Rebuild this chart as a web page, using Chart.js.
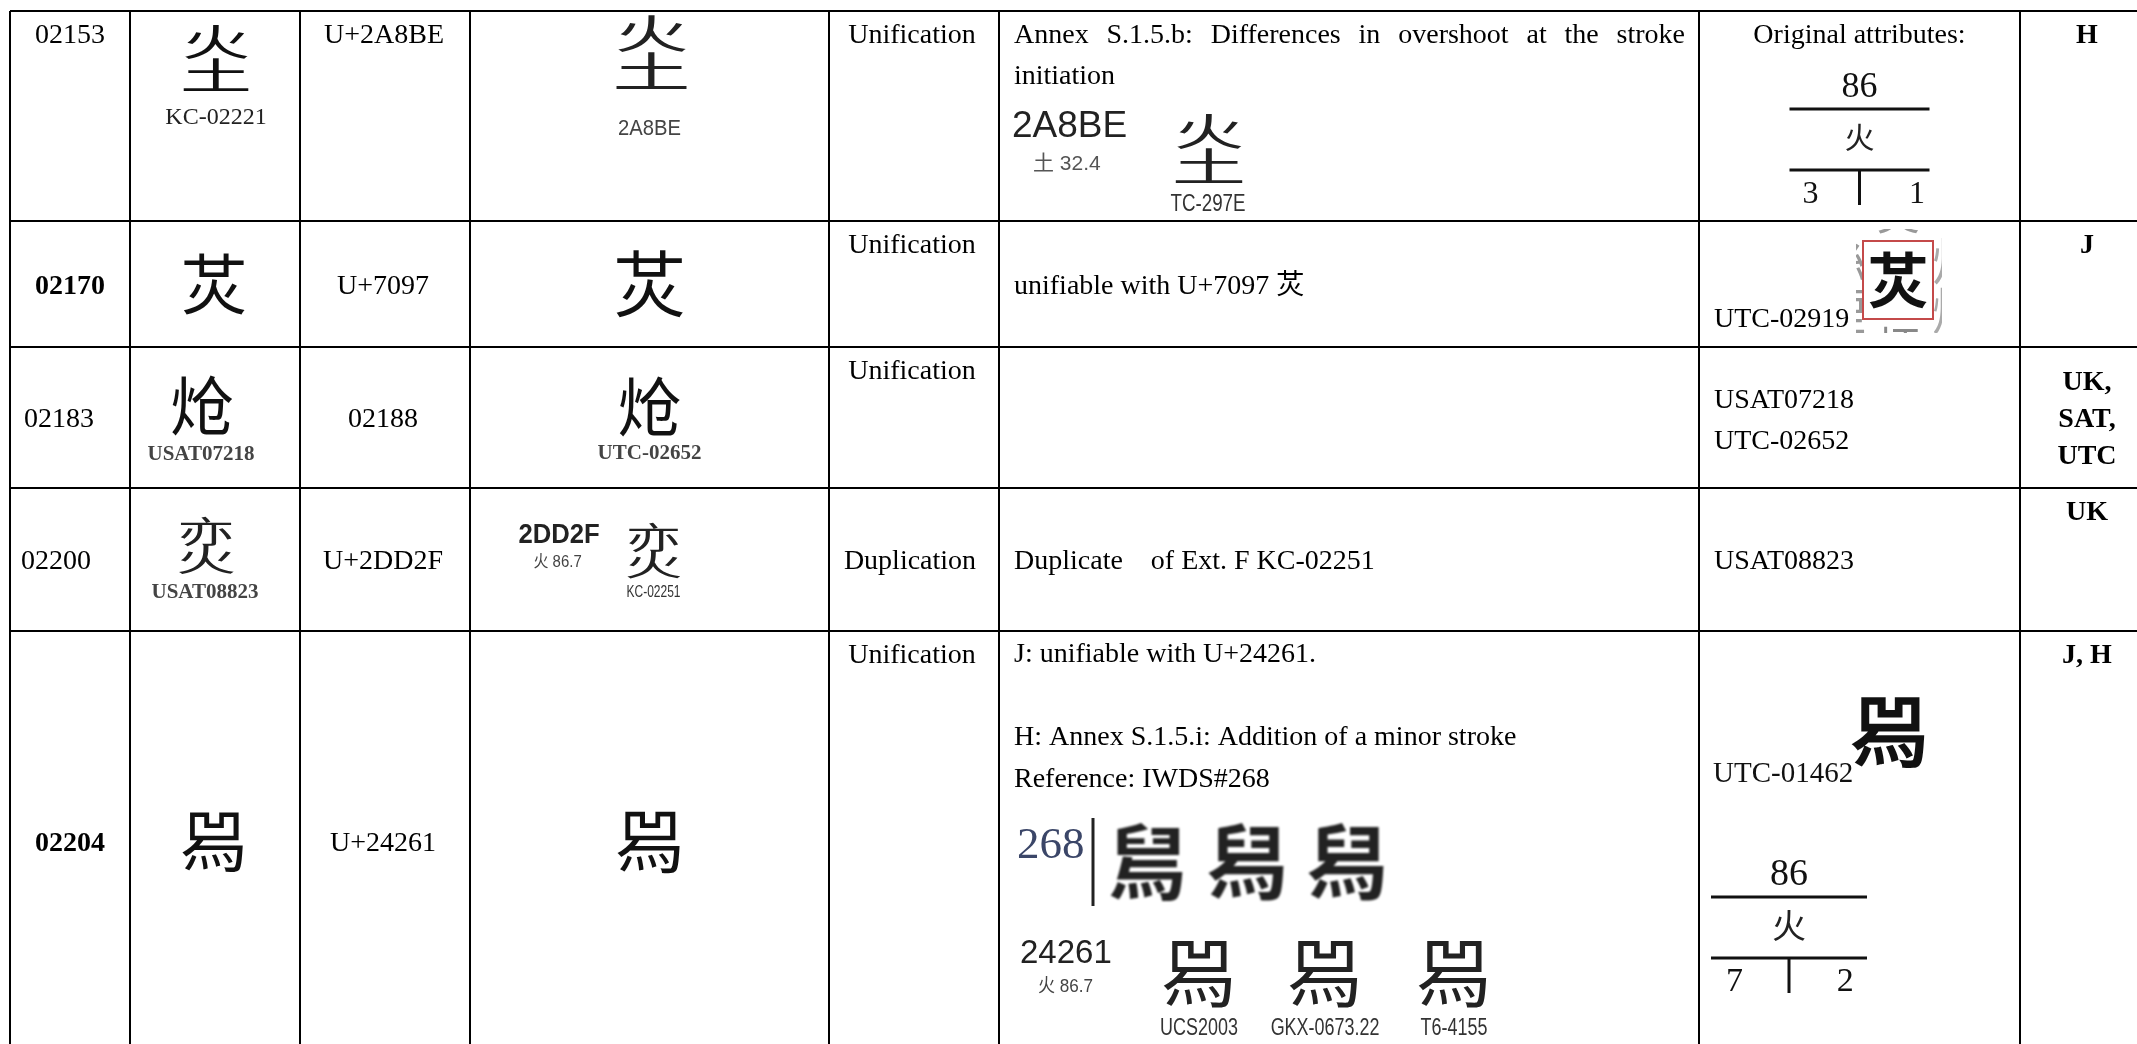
<!DOCTYPE html>
<html>
<head>
<meta charset="utf-8">
<script src="https://cdn.jsdelivr.net/npm/chart.js@4.4.1/dist/chart.umd.min.js"></script>
<style>
  html, body { margin: 0; padding: 0; background: #fff; overflow: hidden; }
  #wrap { width: 2137px; height: 1044px; }
</style>
</head>
<body>
<div id="wrap"><canvas id="table_chart"></canvas></div>
<script>
// ---- table content -------------------------------------------------------
const rowIds = ["02153", "02170", "02183", "02200", "02204"];
const rowIdBold = [false, true, false, false, true];
const sourceGlyphs = ["\u{2A8BE}", "\u7097", "\u709D", "\u{2DD2F}", "\u{24261}"];
const sourceLabels = ["KC-02221", "", "USAT07218", "USAT08823", ""];
const targetCodes = ["U+2A8BE", "U+7097", "02188", "U+2DD2F", "U+24261"];
const targetGlyphs = ["\u{2A8BE}", "\u7097", "\u709D", "\u{2DD2F}", "\u{24261}"];
const targetLabels = ["2A8BE", "", "UTC-02652", "KC-02251", ""];
const targetHeads = ["", "", "", "2DD2F", ""];
const targetAttrs = ["", "", "", "火 86.7", ""];
const dispositions = ["Unification", "Unification", "Unification", "Duplication", "Unification"];
const comments = [
  ["Annex S.1.5.b: Differences in overshoot at the stroke", "initiation"],
  ["unifiable with U+7097 \u7097"],
  [],
  ["Duplicate    of Ext. F KC-02251"],
  ["J: unifiable with U+24261.", "", "H: Annex S.1.5.i: Addition of a minor stroke", "Reference: IWDS#268"],
];
const evidenceCodes = ["2A8BE", "", "", "", "24261"];
const evidenceAttrs = ["土 32.4", "", "", "", "火 86.7"];
const evidenceGlyphs = [["\u{2A8BE}"], [], [], [], ["\u{24261}", "\u{24261}", "\u{24261}"]];
const evidenceSources = [["TC-297E"], [], [], [], ["UCS2003", "GKX-0673.22", "T6-4155"]];
const iwdsNumber = "268";
const iwdsGlyphs = ["\u8203", "\u8204", "\u8204"];
const attributeNotes = [["Original attributes:"], ["UTC-02919"], ["USAT07218", "UTC-02652"], ["USAT08823"], ["UTC-01462"]];
const attributeGlyphs = ["", "\u7097", "", "", "\u{24261}"];
const radicalNumbers = ["86", "", "", "", "86"];
const radicalChars = ["火", "", "", "", "火"];
const strokesFirst = ["3", "", "", "", "7"];
const strokesRest = ["1", "", "", "", "2"];
const submitters = [["H"], ["J"], ["UK,", "SAT,", "UTC"], ["UK"], ["J, H"]];

// ---- table geometry (value space of the two linear scales) ----------------
const colEdges = [10, 130, 300, 470, 829, 999, 1699, 2020];
const rowEdges = [11, 221, 347, 488, 631, 1051];
const idLeftPad = [0, 0, 14, 11, 0];

const SERIF = '"Liberation Serif", "Times New Roman", "Noto Sans CJK SC", serif';
const SANS = '"Liberation Sans", Arial, "Noto Sans CJK SC", sans-serif';
const CJK = '"Noto Sans CJK SC", "Noto Sans CJK TC", "Noto Sans CJK JP", sans-serif';

// composite fallback for ideographs the installed fonts may lack
const glyphParts = { "\u{2A8BE}": ["火", "土"], "\u{2DD2F}": ["亦", "火"], "\u{24261}": ["\u8204"] };

const glyphCache = {};
function hasGlyph(ch) {
  if (ch in glyphCache) return glyphCache[ch];
  const c = document.createElement("canvas");
  c.width = c.height = 48;
  const g = c.getContext("2d");
  const snap = (s) => {
    g.clearRect(0, 0, 48, 48);
    g.font = "36px " + CJK;
    g.textBaseline = "top";
    g.fillText(s, 4, 4);
    return Array.from(g.getImageData(0, 0, 48, 48).data).join(",");
  };
  const a = snap(ch);
  glyphCache[ch] = a !== snap("\u{10FFFD}") && a !== snap("");
  return glyphCache[ch];
}

const tablePlugin = {
  id: "tableCells",
  afterDraw(chart) {
    const { ctx } = chart;
    const xs = chart.scales.x;
    const ys = chart.scales.y;
    const px = (v) => xs.getPixelForValue(v);
    const py = (v) => ys.getPixelForValue(v);

    const box = (c, r) => {
      const l = colEdges[c], rt = colEdges[c + 1] || 2146, t = rowEdges[r], b = rowEdges[r + 1];
      return { l, r: rt, t, b, cx: (l + rt) / 2, cy: (t + b) / 2 };
    };

    // sx < 1 squeezes the text horizontally (condensed labels in the scans)
    function text(str, xv, yv, font, align, color, blur, sx) {
      ctx.save();
      ctx.font = font;
      ctx.fillStyle = color || "#000";
      ctx.textAlign = align || "left";
      ctx.textBaseline = "alphabetic";
      if (blur) ctx.filter = `blur(${blur}px)`;
      ctx.translate(px(xv), py(yv));
      if (sx) ctx.scale(sx, 1);
      ctx.fillText(str, 0, 0);
      ctx.restore();
    }

    function justify(str, x0, x1, yv, font) {
      ctx.save();
      ctx.font = font;
      ctx.fillStyle = "#000";
      ctx.textBaseline = "alphabetic";
      const words = str.split(" ");
      const widths = words.map((w) => ctx.measureText(w).width);
      const total = widths.reduce((a, b) => a + b, 0);
      const gap = (px(x1) - px(x0) - total) / (words.length - 1);
      let xp = px(x0);
      words.forEach((w, i) => {
        ctx.fillText(w, xp, py(yv));
        xp += widths[i] + gap;
      });
      ctx.restore();
    }

    function glyph(ch, cxv, cyv, size, opts) {
      opts = opts || {};
      ctx.save();
      ctx.fillStyle = opts.color || "#000";
      if (opts.blur) ctx.filter = `blur(${opts.blur}px)`;
      ctx.textAlign = "center";
      ctx.textBaseline = "middle";
      const font = `${opts.weight || "normal"} ${size}px ${CJK}`;
      const parts = hasGlyph(ch) ? [ch] : (glyphParts[ch] || [ch]);
      if (parts.length === 1) {
        ctx.font = font;
        ctx.fillText(parts[0], px(cxv), py(cyv));
      } else {
        parts.forEach((p, i) => {
          ctx.save();
          ctx.translate(px(cxv), py(cyv + (i === 0 ? -0.23 : 0.25) * size));
          ctx.scale(i === 0 ? 0.95 : 1, 0.52);
          ctx.font = font;
          ctx.fillText(p, 0, 0);
          ctx.restore();
        });
      }
      ctx.restore();
    }

    function line(x0, y0, x1, y1, w, color) {
      ctx.save();
      ctx.strokeStyle = color || "#000";
      ctx.lineWidth = w;
      ctx.beginPath();
      ctx.moveTo(px(x0), py(y0));
      ctx.lineTo(px(x1), py(y1));
      ctx.stroke();
      ctx.restore();
    }

    function fraction(r, cxv, topv, w, big, restAt) {
      const numSize = big ? 38 : 36;
      text(radicalNumbers[r], cxv, topv + 13, `${numSize}px ${SERIF}`, "center", "#111");
      line(cxv - w / 2, topv + 25, cxv + w / 2, topv + 25, 3, "#111");
      glyph(radicalChars[r], cxv, topv + 53, big ? 34 : 30, { color: "#222" });
      line(cxv - w / 2, topv + 86, cxv + w / 2, topv + 86, 3, "#111");
      line(cxv, topv + 86, cxv, topv + 121, 3, "#111");
      text(strokesFirst[r], cxv - w * 0.35, topv + 119, `${numSize - 4}px ${SERIF}`, "center", "#111");
      text(strokesRest[r], cxv + w * restAt, topv + 119, `${numSize - 4}px ${SERIF}`, "center", "#111");
    }

    const BODY = `28px ${SERIF}`;
    const BOLD = `bold 28px ${SERIF}`;

    for (let r = 0; r < rowIds.length; r++) {
      const top = r === 0;
      // column 0: serial number
      const c0 = box(0, r);
      const base = (b) => (top ? b.t + 32 : b.cy + 9.5);
      if (idLeftPad[r]) text(rowIds[r], c0.l + idLeftPad[r], base(c0), rowIdBold[r] ? BOLD : BODY, "left");
      else text(rowIds[r], c0.cx, base(c0), rowIdBold[r] ? BOLD : BODY, "center");

      // column 2: code point
      const c2 = box(2, r);
      text(targetCodes[r], c2.cx - (top ? 1 : 2), base(c2), BODY, "center");

      // column 4: disposition
      const c4 = box(4, r);
      if (dispositions[r] === "Duplication") text(dispositions[r], c4.cx - 4, c4.cy + 9.5, BODY, "center");
      else text(dispositions[r], c4.cx - 2, c4.t + 32, BODY, "center");

      // column 7: submitters
      const c7 = box(7, r);
      const subs = submitters[r];
      const subStart = subs.length > 1 ? c7.cy - 28 : c7.t + 32;
      subs.forEach((s, i) => text(s, c7.cx + 4, subStart + i * 37, BOLD, "center"));
    }

    // ---- column 1: source glyphs --------------------------------------------
    let b = box(1, 0);
    glyph(sourceGlyphs[0], b.cx + 1, b.t + 47, 72, { color: "#111" });
    text(sourceLabels[0], b.cx + 1, b.t + 113, `24px ${SERIF}`, "center", "#222");
    b = box(1, 1);
    glyph(sourceGlyphs[1], b.cx - 1, b.cy, 66, { color: "#111" });
    b = box(1, 2);
    glyph(sourceGlyphs[2], b.cx - 13, b.cy - 12, 64, { color: "#111" });
    text(sourceLabels[2], b.cx - 14, b.cy + 42, `bold 21px ${SERIF}`, "center", "#444", 0.5);
    b = box(1, 3);
    glyph(sourceGlyphs[3], b.cx - 9, b.cy - 15, 60, { color: "#222", blur: 0.6 });
    text(sourceLabels[3], b.cx - 10, b.cy + 38, `bold 21px ${SERIF}`, "center", "#444", 0.5);
    b = box(1, 4);
    glyph(sourceGlyphs[4], b.cx - 1, b.cy, 68, { color: "#111" });

    // ---- column 3: target glyphs --------------------------------------------
    b = box(3, 0);
    glyph(targetGlyphs[0], b.cx + 2, b.t + 41, 78, { color: "#222", blur: 0.6 });
    text(targetLabels[0], b.cx, b.t + 124, `22px ${SANS}`, "center", "#444", 0.4, 0.92);
    b = box(3, 1);
    glyph(targetGlyphs[1], b.cx, b.cy, 72, { color: "#111" });
    b = box(3, 2);
    glyph(targetGlyphs[2], b.cx, b.cy - 11, 64, { color: "#111" });
    text(targetLabels[2], b.cx, b.cy + 41.5, `bold 21px ${SERIF}`, "center", "#444", 0.5);
    b = box(3, 3);
    text(targetHeads[3], b.cx - 131, b.cy - 16.5, `bold 27px ${SANS}`, "left", "#222", 0.5, 0.95);
    text(targetAttrs[3], b.cx - 116, b.cy + 7, `17px ${SANS}`, "left", "#444", 0.4, 0.88);
    glyph(targetGlyphs[3], b.cx + 4, b.cy - 9, 58, { color: "#222", blur: 0.6 });
    text(targetLabels[3], b.cx + 4, b.cy + 37.5, `16px ${SANS}`, "center", "#333", 0.4, 0.75);
    b = box(3, 4);
    glyph(targetGlyphs[4], b.cx, b.cy, 70, { color: "#111" });

    // ---- column 5: comments -------------------------------------------------
    b = box(5, 0);
    justify(comments[0][0], b.l + 15, b.r - 14, b.t + 32, BODY);
    text(comments[0][1], b.l + 15, b.t + 73, BODY);
    text(evidenceCodes[0], b.l + 13, b.t + 126, `37px ${SANS}`, "left", "#222", 0.3);
    text(evidenceAttrs[0], b.l + 34, b.t + 159, `21px ${SANS}`, "left", "#555", 0.3);
    glyph(evidenceGlyphs[0][0], b.l + 210, b.t + 137, 74, { color: "#222", blur: 0.5 });
    text(evidenceSources[0][0], b.l + 209, b.t + 200, `24px ${SANS}`, "center", "#333", 0.4, 0.78);

    b = box(5, 1);
    text(comments[1][0], b.l + 15, b.cy + 9.5, BODY);
    b = box(5, 3);
    text(comments[3][0], b.l + 15, b.cy + 9.5, BODY);

    b = box(5, 4);
    comments[4].forEach((s, i) => { if (s) text(s, b.l + 15, b.t + 31 + i * 41.5, BODY); });
    text(iwdsNumber, b.l + 18, b.t + 227, `45px ${SERIF}`, "left", "#3b4668", 0.4);
    line(b.l + 94, b.t + 187, b.l + 94, b.t + 275, 3, "#222");
    iwdsGlyphs.forEach((g, i) => glyph(g, b.l + 149 + i * 100, b.t + 231, 82, { color: "#222", weight: "bold", blur: 0.8 }));
    text(evidenceCodes[4], b.l + 21, b.t + 332, `33px ${SANS}`, "left", "#222", 0.3);
    text(evidenceAttrs[4], b.l + 39, b.t + 361, `19px ${SANS}`, "left", "#444", 0.3, 0.9);
    evidenceGlyphs[4].forEach((g, i) => {
      const gx = b.l + [200, 326, 455][i];
      glyph(g, gx, b.t + 342, 76, { color: "#222", blur: 0.5 });
      text(evidenceSources[4][i], gx, b.t + 404, `23px ${SANS}`, "center", "#333", 0.4, 0.78);
    });

    // ---- column 6: original attributes ------------------------------------------
    b = box(6, 0);
    text(attributeNotes[0][0], b.cx, b.t + 32, BODY, "center");
    fraction(0, b.cx, b.t + 73, 140, false, 0.41);

    b = box(6, 1);
    text(attributeNotes[1][0], b.l + 15, b.b - 20, BODY);
    // scanned dictionary snippet with red frame
    ctx.save();
    ctx.beginPath();
    ctx.rect(px(b.l + 157), py(b.t + 8), 86, 104);
    ctx.clip();
    ["\u7D72", "\u7159"].forEach((g, i) => glyph(g, b.l + 142, b.t + 40 + i * 50, 50, { color: "#999", blur: 0.7 }));
    ["\u708A", "\u71C8"].forEach((g, i) => glyph(g, b.l + 258, b.t + 40 + i * 50, 50, { color: "#aaa", blur: 0.7 }));
    glyph("\u708E", b.l + 199, b.t - 8, 44, { color: "#999", blur: 0.7 });
    glyph("\u70B3", b.l + 199, b.t + 126, 44, { color: "#888", blur: 0.7 });
    ctx.fillStyle = "#fff";
    ctx.fillRect(px(b.l + 164), py(b.t + 20), 70, 78);
    ctx.restore();
    glyph(attributeGlyphs[1], b.l + 199, b.t + 59, 60, { color: "#111", weight: "bold", blur: 0.5 });
    ctx.save();
    ctx.strokeStyle = "#c44a4a";
    ctx.lineWidth = 2;
    ctx.strokeRect(px(b.l + 164), py(b.t + 20), 70, 78);
    ctx.restore();

    b = box(6, 2);
    text(attributeNotes[2][0], b.l + 15, b.cy - 10, BODY);
    text(attributeNotes[2][1], b.l + 15, b.cy + 31, BODY);
    b = box(6, 3);
    text(attributeNotes[3][0], b.l + 15, b.cy + 9.5, BODY);

    b = box(6, 4);
    text(attributeNotes[4][0], b.l + 14, b.t + 151, `29px ${SERIF}`, "left", "#111");
    glyph(attributeGlyphs[4], b.l + 191, b.t + 100, 78, { color: "#111", weight: "bold", blur: 0.6 });
    fraction(4, b.l + 90, b.t + 241, 156, true, 0.36);
  },
};

new Chart(document.getElementById("table_chart"), {
  type: "scatter",
  data: { datasets: [] },
  options: {
    responsive: true,
    maintainAspectRatio: false,
    animation: false,
    events: [],
    layout: { padding: { left: colEdges[0], top: rowEdges[0], right: 0, bottom: 0 } },
    plugins: { legend: { display: false }, tooltip: { enabled: false } },
    scales: {
      x: {
        type: "linear",
        min: colEdges[0],
        max: 2137,
        afterBuildTicks: (scale) => { scale.ticks = colEdges.map((v) => ({ value: v })); },
        ticks: { display: false },
        grid: { color: "#000", lineWidth: 2, drawTicks: false },
        border: { display: false },
      },
      y: {
        type: "linear",
        reverse: true,
        min: rowEdges[0],
        max: 1044,
        afterBuildTicks: (scale) => { scale.ticks = rowEdges.filter((v) => v <= 1044).map((v) => ({ value: v })); },
        ticks: { display: false },
        grid: { color: "#000", lineWidth: 2, drawTicks: false },
        border: { display: false },
      },
    },
  },
  plugins: [tablePlugin],
});
</script>
</body>
</html>
